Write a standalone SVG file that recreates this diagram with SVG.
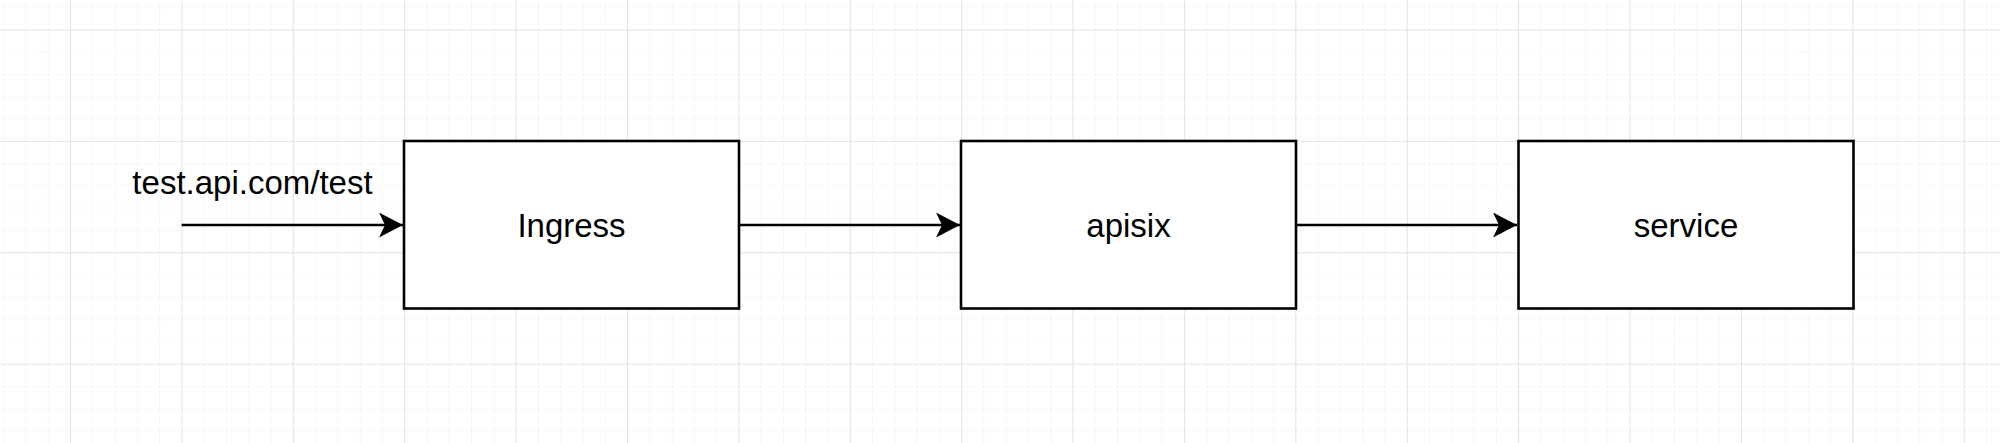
<svg xmlns="http://www.w3.org/2000/svg" width="2000" height="443" viewBox="0 0 2000 443">
  <style>
    .node rect { fill: #ffffff; stroke: #000000; stroke-width: 2.6; }
    .label { font-family: "Liberation Sans", Arial, sans-serif; font-size: 33px; fill: #000000; text-anchor: middle; }
    .edge { stroke: #000000; stroke-width: 2.6; fill: none; marker-end: url(#arrow); }
  </style>
  <defs>
    <pattern id="minor" patternUnits="userSpaceOnUse" x="70" y="29.5" width="22.28" height="22.28">
      <path d="M0 0 H22.28 M0 0 V22.28" stroke="#f1f1f1" stroke-width="1.2" fill="none"/>
    </pattern>
    <pattern id="major" patternUnits="userSpaceOnUse" x="70" y="29.5" width="111.4" height="111.4">
      <path d="M0 0 H111.4 M0 0 V111.4" stroke="#e3e3e3" stroke-width="1.8" fill="none"/>
    </pattern>
    <marker id="arrow" markerUnits="userSpaceOnUse" markerWidth="30" markerHeight="30" refX="24" refY="12.5" orient="auto" viewBox="0 0 30 30">
      <path d="M0 0 L24 12.5 L0 25 L6 12.5 Z" fill="#000000"/>
    </marker>
  </defs>
  <rect width="2000" height="443" fill="#ffffff"/>
  <rect width="2000" height="443" fill="url(#minor)"/>
  <rect width="2000" height="443" fill="url(#major)"/>

  <g id="connectors">
    <line class="edge" x1="181.7" y1="225" x2="403" y2="225"/>
    <line class="edge" x1="739" y1="225" x2="960" y2="225"/>
    <line class="edge" x1="1296" y1="225" x2="1517" y2="225"/>
  </g>

  <g id="entry-label">
    <text class="label" x="252.5" y="194">test.api.com/test</text>
  </g>

  <g id="ingress" class="node">
    <rect x="404" y="141" width="335" height="167.5"/>
    <text class="label" x="571.5" y="236.5">Ingress</text>
  </g>

  <g id="apisix" class="node">
    <rect x="961" y="141" width="335" height="167.5"/>
    <text class="label" x="1128.5" y="236.5">apisix</text>
  </g>

  <g id="service" class="node">
    <rect x="1518.5" y="141" width="335" height="167.5"/>
    <text class="label" x="1686" y="236.5">service</text>
  </g>
</svg>
